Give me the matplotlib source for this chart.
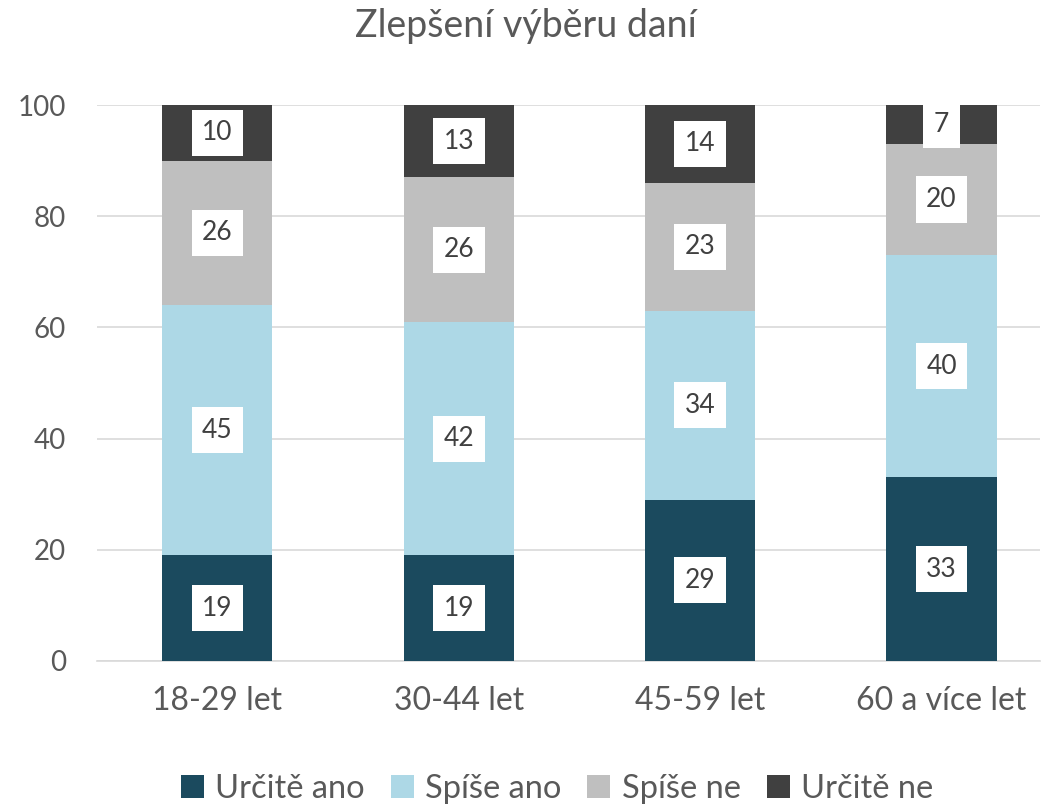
import matplotlib
matplotlib.use("Agg")
import matplotlib.pyplot as plt
import numpy as np

plt.rcParams['font.family'] = ['Lato', 'DejaVu Sans']

# data
categories = ["18-29 let", "30-44 let", "45-59 let", "60 a více let"]
series_names = ["Určitě ano", "Spíše ano", "Spíše ne", "Určitě ne"]
urcite_ano = [19, 19, 29, 33]
spise_ano = [45, 42, 34, 40]
spise_ne = [26, 26, 23, 20]
urcite_ne = [10, 13, 14, 7]
colors = ["#1B4A5E", "#ADD8E6", "#BFBFBF", "#404040"]
yticks = [0, 20, 40, 60, 80, 100]

fig = plt.figure(figsize=(10.51, 8.08), dpi=100)
ax = fig.add_axes([0.092, 0.182, 0.898, 0.688])

x = np.arange(len(categories))
bottom = np.zeros(len(categories))
for name, vals, col in zip(series_names, [urcite_ano, spise_ano, spise_ne, urcite_ne], colors):
    vals = np.array(vals, dtype=float)
    ax.bar(x, vals, 0.456, bottom=bottom, color=col, label=name, zorder=3)
    for xi, b, v in zip(x, bottom, vals):
        ax.text(xi, b + v / 2, f"{int(v)}", ha='center', va='center', fontsize=19,
                color='#404040', zorder=4,
                bbox=dict(boxstyle='square,pad=0.4', fc='white', ec='none'))
    bottom += vals

ax.set_ylim(0, 100)
ax.set_xlim(-0.5, 3.41)
ax.set_yticks(yticks)
ax.set_xticks(x)
ax.set_xticklabels(categories)
ax.yaxis.grid(True, color='#D9D9D9', linewidth=1.2, zorder=0)
for s in ['top', 'right', 'left']:
    ax.spines[s].set_visible(False)
ax.spines['bottom'].set_color('#D9D9D9')
ax.spines['bottom'].set_linewidth(1.2)
ax.tick_params(axis='y', length=0, labelsize=20, labelcolor='#595959', pad=22)
ax.tick_params(axis='x', length=0, labelsize=23, labelcolor='#595959', pad=18)

fig.suptitle("Zlepšení výběru daní", y=0.99, fontsize=27, color='#595959')

fig.legend(loc='center', bbox_to_anchor=(0.53, 0.024), ncol=4, frameon=False,
           fontsize=23.5, labelcolor='#595959', handlelength=0.7, handleheight=0.7,
           handletextpad=0.35, columnspacing=0.8)

fig.savefig("out.png", dpi=100)
